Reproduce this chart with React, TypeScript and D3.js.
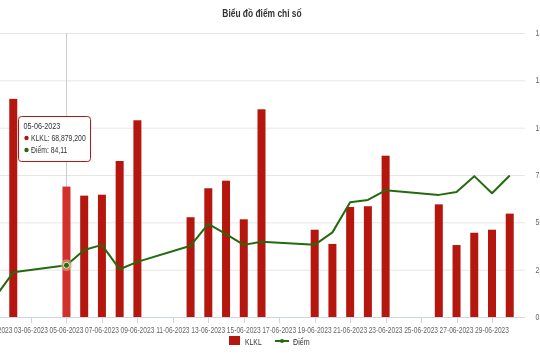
import React, { useEffect, useRef } from 'react';
import * as d3 from 'd3';

// trading days shown on the chart
const dates = [
  '01-06-2023', '02-06-2023', '05-06-2023', '06-06-2023', '07-06-2023', '08-06-2023', '09-06-2023',
  '12-06-2023', '13-06-2023', '14-06-2023', '15-06-2023', '16-06-2023',
  '19-06-2023', '20-06-2023', '21-06-2023', '22-06-2023', '23-06-2023',
  '26-06-2023', '27-06-2023', '28-06-2023', '29-06-2023', '30-06-2023',
];

// KLKL (volume), first day is outside the visible frame
const klkl = [
  null, 115200000, 68879200, 64100000, 64600000, 82400000, 103900000,
  52700000, 68000000, 72000000, 51600000, 109700000,
  46100000, 38600000, 58100000, 58500000, 85200000,
  59500000, 38000000, 44500000, 46100000, 54600000,
];

// Điểm (index points)
const diem = [
  78.6, 82.87, 84.11, 86.8, 87.7, 83.4, 84.7,
  87.55, 91.4, 89.6, 87.7, 88.26,
  87.7, 89.9, 95.2, 95.6, 97.3,
  96.5, 97.0, 99.8, 96.8, 99.9,
];

const klklTicks = [0, 25000000, 50000000, 75000000, 100000000, 125000000, 150000000];
const klklTickLabels = ['0', '25M', '50M', '75M', '100M', '125M', '150M'];
const xTickDates = [
  '01-06-2023', '03-06-2023', '05-06-2023', '07-06-2023', '09-06-2023', '11-06-2023', '13-06-2023',
  '15-06-2023', '17-06-2023', '19-06-2023', '21-06-2023', '23-06-2023', '25-06-2023', '27-06-2023', '29-06-2023',
];

const hoverIndex = 2;
const FONT = "'Liberation Sans', Arial, sans-serif";
const NARROW = 0.78; // the original uses a condensed face

// condensed text: squeeze horizontally around the anchor point
const addText = (parent: any, x: number, y: number, str: string, size: number, opts: any = {}) =>
  parent.append('text')
    .attr('transform', `translate(${x},${y}) scale(${opts.sx || NARROW},1)`)
    .attr('text-anchor', opts.anchor || 'start')
    .style('font-size', `${size}px`)
    .style('font-weight', opts.weight || 'normal')
    .attr('fill', opts.fill || '#333')
    .text(str);

const App = () => {
  const svgRef = useRef<SVGSVGElement>(null);

  useEffect(() => {
    document.body.style.margin = '0';
    const width = 540;
    const height = 360;
    const top = 33;
    const bottom = 317;
    const plotLeft = -30;
    const plotRight = 525;

    const parse = d3.timeParse('%d-%m-%Y');
    const fmt = d3.timeFormat('%d-%m-%Y');

    const svg = d3.select(svgRef.current);
    svg.selectAll('*').remove();
    svg.attr('width', width).attr('height', height).style('font-family', FONT);

    const x = d3.scaleTime()
      .domain([parse('03-06-2023') as Date, parse('29-06-2023') as Date])
      .range([31, 492]);
    const yK = d3.scaleLinear().domain([0, 150000000]).range([bottom, top]);
    const yD = d3.scaleLinear().domain([75, 125]).range([bottom, top]);

    const rows = dates.map((d, i) => ({ date: parse(d) as Date, k: klkl[i], p: diem[i], i }));

    // Title
    addText(svg, 262, 17, 'Biểu đồ điểm chỉ số', 10.5, { anchor: 'middle', weight: 'bold', sx: 0.8 });

    // grid lines + right axis labels
    klklTicks.forEach((t, i) => {
      if (i > 0) {
        svg.append('line')
          .attr('x1', plotLeft).attr('x2', plotRight)
          .attr('y1', yK(t) + 0.5).attr('y2', yK(t) + 0.5)
          .attr('stroke', '#e6e6e6');
      }
      addText(svg, 535.5, yK(t) + 3, klklTickLabels[i], 9, { fill: '#666' });
    });

    // x axis
    svg.append('line')
      .attr('x1', plotLeft).attr('x2', plotRight)
      .attr('y1', bottom + 0.5).attr('y2', bottom + 0.5)
      .attr('stroke', '#ccd6eb');
    xTickDates.forEach(s => {
      const d = parse(s) as Date;
      const px = Math.round(x(d)) + 0.5;
      svg.append('line')
        .attr('x1', px).attr('x2', px)
        .attr('y1', bottom).attr('y2', bottom + 6)
        .attr('stroke', '#ccd6eb');
      addText(svg, x(d), 333, fmt(d), 8.5, { anchor: 'middle', fill: '#666' });
    });

    // crosshair
    const cx = Math.round(x(rows[hoverIndex].date)) + 0.5;
    svg.append('line')
      .attr('x1', cx).attr('x2', cx)
      .attr('y1', top).attr('y2', bottom)
      .attr('stroke', '#cccccc');

    // columns
    const barW = 8;
    svg.append('g').selectAll('rect')
      .data(rows.filter(r => r.k != null))
      .enter().append('rect')
      .attr('x', d => x(d.date) - barW / 2)
      .attr('y', d => yK(d.k as number))
      .attr('width', barW)
      .attr('height', d => bottom - yK(d.k as number))
      .attr('fill', d => d.i === hoverIndex ? '#d2302a' : '#b5170f');

    // line
    const line = d3.line<any>().x(d => x(d.date)).y(d => yD(d.p));
    svg.append('path')
      .datum(rows)
      .attr('d', line)
      .attr('fill', 'none')
      .attr('stroke', '#236b0e')
      .attr('stroke-width', 2)
      .attr('stroke-linejoin', 'round');

    // hover marker
    const h = rows[hoverIndex];
    svg.append('circle')
      .attr('cx', x(h.date)).attr('cy', yD(h.p)).attr('r', 6)
      .attr('fill', 'rgba(214,196,140,0.5)');
    svg.append('circle')
      .attr('cx', x(h.date)).attr('cy', yD(h.p)).attr('r', 3)
      .attr('fill', '#236b0e').attr('stroke', '#fff').attr('stroke-width', 0.8);

    // tooltip
    const tip = svg.append('g').attr('transform', 'translate(18.5,116.5)');
    tip.append('rect')
      .attr('width', 72).attr('height', 45).attr('rx', 3)
      .attr('fill', 'rgba(255,255,255,0.95)')
      .attr('stroke', '#b5170f');
    addText(tip, 5, 12.5, fmt(h.date), 9.5, { sx: 0.76 });
    const fmtK = d3.format(',');
    const tipRows = [
      { c: '#b5170f', t: `KLKL: ${fmtK(h.k as number)}`, y: 24.5 },
      { c: '#236b0e', t: `Điểm: ${h.p.toFixed(2).replace('.', ',')}`, y: 36.5 },
    ];
    tipRows.forEach(r => {
      tip.append('circle').attr('cx', 8).attr('cy', r.y - 3).attr('r', 2.2).attr('fill', r.c);
      addText(tip, 12.5, r.y, r.t, 9.5, { sx: 0.72 });
    });

    // legend
    const lg = svg.append('g');
    lg.append('rect').attr('x', 229).attr('y', 336).attr('width', 11).attr('height', 9)
      .attr('fill', '#b5170f');
    addText(lg, 245, 344.5, 'KLKL', 9.5, { sx: 0.72 });
    lg.append('line').attr('x1', 275).attr('x2', 289).attr('y1', 341).attr('y2', 341)
      .attr('stroke', '#236b0e').attr('stroke-width', 2);
    lg.append('circle').attr('cx', 282).attr('cy', 341).attr('r', 2).attr('fill', '#236b0e');
    addText(lg, 293, 344.5, 'Điểm', 9.5, { sx: 0.75 });
  }, []);

  return (
    <div style={{ width: 540, height: 360, overflow: 'hidden', position: 'fixed', left: 0, top: 0 }}>
      <svg ref={svgRef} style={{ display: 'block' }}></svg>
    </div>
  );
};

export default App;
